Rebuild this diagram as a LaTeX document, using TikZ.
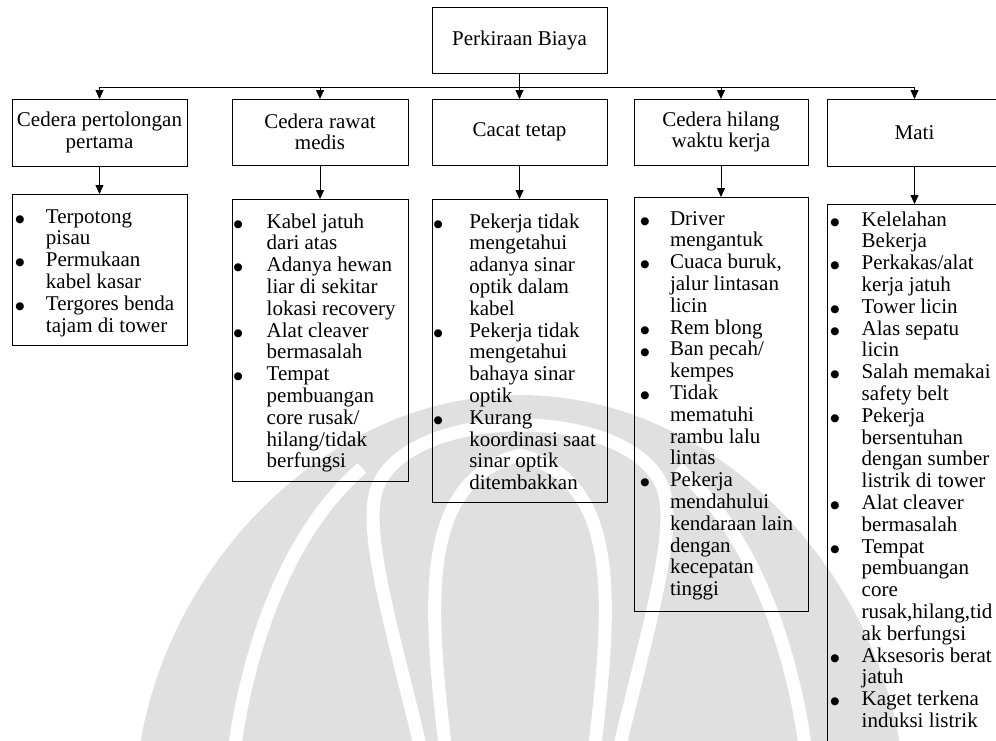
\documentclass[tikz,border=0pt]{standalone}
\usepackage{fontspec}
\setmainfont{Liberation Serif}
\newfontfamily\dvs{DejaVu Sans}
\usetikzlibrary{arrows.meta}
\newlength\bw
\newcommand\bl{\makebox[\bw][l]{\makebox[7.4pt][c]{\raisebox{0.8pt}{\dvs\fontsize{10.5}{10.5}\selectfont ●}}}}
\newcommand\ct{\hspace*{\bw}}
\definecolor{wmgray}{RGB}{224,224,224}
\begin{document}
\begin{tikzpicture}[x=1pt,y=-1pt,
  box/.style={draw, line width=0.8pt, rectangle, inner sep=0pt, outer sep=0pt,
    font=\fontsize{21}{21.5}\selectfont, align=center},
  frame/.style={draw, line width=0.8pt, rectangle, inner sep=0pt, outer sep=0pt},
  lst/.style={anchor=base west, inner sep=0pt, outer sep=0pt, font=\fontsize{21}{21.8}\selectfont},
  arr/.style={-{Triangle[length=9pt,width=8pt]}, line width=0.8pt},
  ln/.style={line width=0.8pt},
  wm/.style={fill=wmgray},
  gap/.style={draw=white, line width=13pt}]
\useasboundingbox (0,0) rectangle (996,740);

% faint background watermark
\begin{scope}
\clip (0,0) rectangle (996,740);
\fill[wm] (140,745) .. controls (170,560) and (330,395) .. (520,395)
  .. controls (710,395) and (870,560) .. (900,745) -- cycle;
\draw[gap] (420,745) .. controls (395,640) and (365,540) .. (375,495)
  .. controls (385,450) and (450,425) .. (520,425)
  .. controls (590,425) and (655,450) .. (665,495)
  .. controls (675,540) and (645,640) .. (620,745);
\draw[gap] (445,745) .. controls (428,600) and (420,480) .. (520,455)
  .. controls (620,480) and (612,600) .. (595,745);
\draw[gap] (235,745) .. controls (250,640) and (290,530) .. (362,468);
\draw[gap] (805,745) .. controls (790,640) and (750,530) .. (678,468);
\end{scope}

% level boxes
\node[box, minimum width=175pt, minimum height=66pt] (top) at (519.5,40) {Perkiraan Biaya};
\node[box, minimum width=175pt, minimum height=67pt] (c1) at (99.5,132.5) {Cedera pertolongan\\pertama};
\node[box, minimum width=176pt, minimum height=66pt] (c2) at (320,132) {Cedera rawat\\medis};
\node[box, minimum width=175pt, minimum height=66pt] (c3) at (519.5,132) {Cacat tetap};
\node[box, minimum width=174pt, minimum height=66pt] (c4) at (721,132) {Cedera hilang\\waktu kerja};
\node[box, minimum width=175pt, minimum height=67pt] (c5) at (914.5,132.5) {Mati};

% detail frames
\node[frame, minimum width=175pt, minimum height=151pt] (d1) at (99.5,269.5) {};
\node[frame, minimum width=176pt, minimum height=282pt] (d2) at (320,340) {};
\node[frame, minimum width=175pt, minimum height=303pt] (d3) at (519.5,350.5) {};
\node[frame, minimum width=174pt, minimum height=414pt] (d4) at (721,404) {};
\node[frame, minimum width=175pt, minimum height=566pt] (d5) at (914.5,487) {};

% connectors
\foreach \i in {1,...,5} {\coordinate (h\i) at ([yshift=12pt]c\i.north);}
\draw[ln] (h1) -- (h5);
\foreach \i in {1,2,4,5} {\draw[arr] (h\i) -- (c\i.north);}
\draw[arr] (top.south) -- (c3.north);
\foreach \i in {1,...,5} {\draw[arr] (c\i.south) -- (d\i.north);}

% lists
\node[lst] (t1) at (16.3,223) {\setlength\bw{29.7pt}\begin{tabular}[t]{@{}l@{}}
\bl Terpotong\\ \ct pisau\\ \bl Permukaan\\ \ct kabel kasar\\ \bl Tergores benda\\ \ct tajam di tower
\end{tabular}};
\node[lst] (t2) at (234.6,228) {\setlength\bw{32.1pt}\begin{tabular}[t]{@{}l@{}}
\bl Kabel jatuh\\ \ct dari atas\\ \bl Adanya hewan\\ \ct liar di sekitar\\ \ct lokasi recovery\\
\bl Alat cleaver\\ \ct bermasalah\\ \bl Tempat\\ \ct pembuangan\\ \ct core rusak/\\ \ct hilang/tidak\\ \ct berfungsi
\end{tabular}};
\node[lst] (t3) at (434.6,228) {\setlength\bw{34.7pt}\begin{tabular}[t]{@{}l@{}}
\bl Pekerja tidak\\ \ct mengetahui\\ \ct adanya sinar\\ \ct optik dalam\\ \ct kabel\\
\bl Pekerja tidak\\ \ct mengetahui\\ \ct bahaya sinar\\ \ct optik\\
\bl Kurang\\ \ct koordinasi saat\\ \ct sinar optik\\ \ct ditembakkan
\end{tabular}};
\node[lst] (t4) at (641.3,225) {\setlength\bw{28.7pt}\begin{tabular}[t]{@{}l@{}}
\bl Driver\\ \ct mengantuk\\ \bl Cuaca buruk,\\ \ct jalur lintasan\\ \ct licin\\
\bl Rem blong\\ \bl Ban pecah/\\ \ct kempes\\ \bl Tidak\\ \ct mematuhi\\ \ct rambu lalu\\ \ct lintas\\
\bl Pekerja\\ \ct mendahului\\ \ct kendaraan lain\\ \ct dengan\\ \ct kecepatan\\ \ct tinggi
\end{tabular}};
\node[lst] (t5) at (831.3,226) {\setlength\bw{30.4pt}\begin{tabular}[t]{@{}l@{}}
\bl Kelelahan\\ \ct Bekerja\\ \bl Perkakas/alat\\ \ct kerja jatuh\\ \bl Tower licin\\
\bl Alas sepatu\\ \ct licin\\ \bl Salah memakai\\ \ct safety belt\\
\bl Pekerja\\ \ct bersentuhan\\ \ct dengan sumber\\ \ct listrik di tower\\
\bl Alat cleaver\\ \ct bermasalah\\ \bl Tempat\\ \ct pembuangan\\ \ct core\\ \ct rusak,hilang,tid\\ \ct ak berfungsi\\
\bl Aksesoris berat\\ \ct jatuh\\ \bl Kaget terkena\\ \ct induksi listrik
\end{tabular}};
\end{tikzpicture}
\end{document}
